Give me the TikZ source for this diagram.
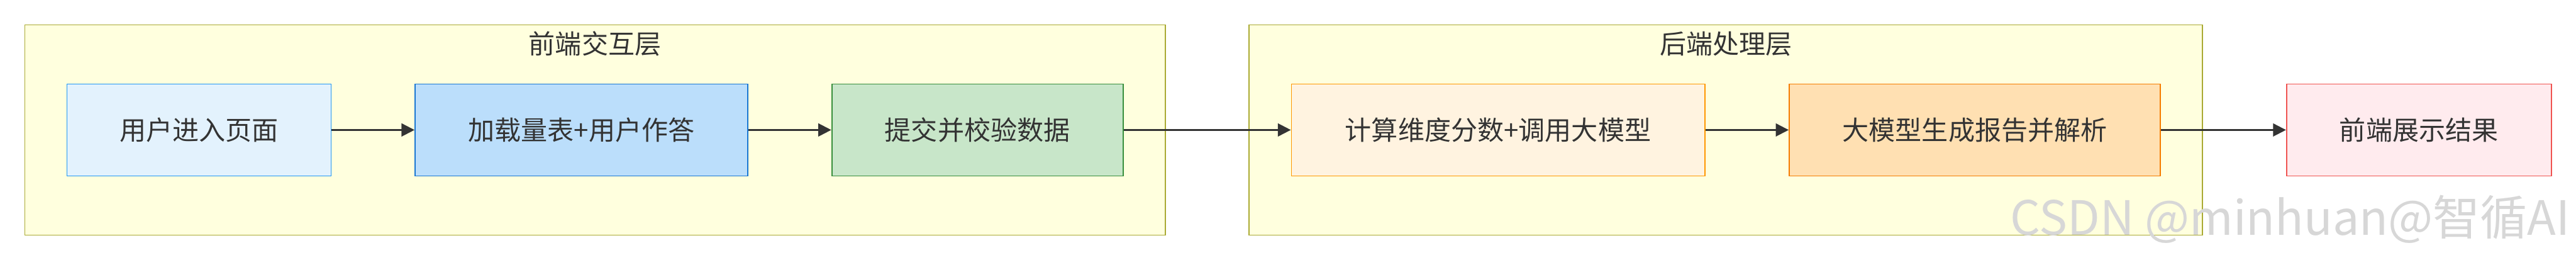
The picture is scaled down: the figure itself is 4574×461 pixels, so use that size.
\documentclass[tikz,border=0pt]{standalone}
\usepackage{fontspec}
\setmainfont{Noto Sans CJK SC}
\usetikzlibrary{arrows.meta}
\definecolor{txt}{HTML}{333333}
\definecolor{clfill}{HTML}{FFFFDE}
\definecolor{cldraw}{HTML}{AAAA33}
\tikzset{
  cluster/.style={draw=cldraw, fill=clfill, line width=1pt, minimum height=186.5pt, inner sep=0pt},
  stepbox/.style={draw, line width=1pt, minimum height=81.5pt, inner sep=0pt, text=txt, font=\fontsize{23.5}{28}\selectfont},
  title/.style={text=txt, font=\fontsize{23.5}{28}\selectfont, inner sep=0pt},
  flow/.style={draw=txt, line width=1.3pt, -{Triangle[length=11.5pt,width=11.5pt]}},
}
\begin{document}
\begin{tikzpicture}[x=0.5pt,y=-0.5pt]
\useasboundingbox[fill=white] (0,0) rectangle (4574,461);
\node[cluster, minimum width=1012.5pt] (c1) at (1056.5,230.5) {};
\node[cluster, minimum width=846.5pt] (c2) at (3064.5,230.5) {};
\node[title] (t1) at (1056.5,78) {前端交互层};
\node[title] (t2) at (3064.5,78) {后端处理层};
\node[stepbox, draw={rgb,255:red,33;green,150;blue,243}, fill={rgb,255:red,227;green,242;blue,253}, minimum width=234.5pt] (a) at (353.5,230.5) {用户进入页面};
\node[stepbox, draw={rgb,255:red,25;green,118;blue,210}, fill={rgb,255:red,187;green,222;blue,251}, minimum width=295.5pt] (b) at (1032.5,230.5) {加载量表+用户作答};
\node[stepbox, draw={rgb,255:red,56;green,142;blue,60}, fill={rgb,255:red,200;green,230;blue,201}, minimum width=258.5pt] (c) at (1735.5,230.5) {提交并校验数据};
\node[stepbox, draw={rgb,255:red,255;green,152;blue,0}, fill={rgb,255:red,255;green,243;blue,224}, minimum width=367pt] (d) at (2660,230.5) {计算维度分数+调用大模型};
\node[stepbox, draw={rgb,255:red,245;green,124;blue,0}, fill={rgb,255:red,255;green,224;blue,178}, minimum width=329.5pt] (e) at (3506.5,230.5) {大模型生成报告并解析};
\node[stepbox, draw={rgb,255:red,239;green,83;blue,80}, fill={rgb,255:red,255;green,235;blue,238}, minimum width=235pt] (f) at (4295,230.5) {前端展示结果};
\draw[flow] (a) -- (b);
\draw[flow] (b) -- (c);
\draw[flow] (c) -- (d);
\draw[flow] (d) -- (e);
\draw[flow] (e) -- (f);
\node[anchor=base east, inner sep=0pt, text={rgb,255:red,215;green,215;blue,215}, font=\fontsize{42}{48}\selectfont] (wm) at (4564,417) {CSDN @minhuan@智循AI};
\end{tikzpicture}
\end{document}
